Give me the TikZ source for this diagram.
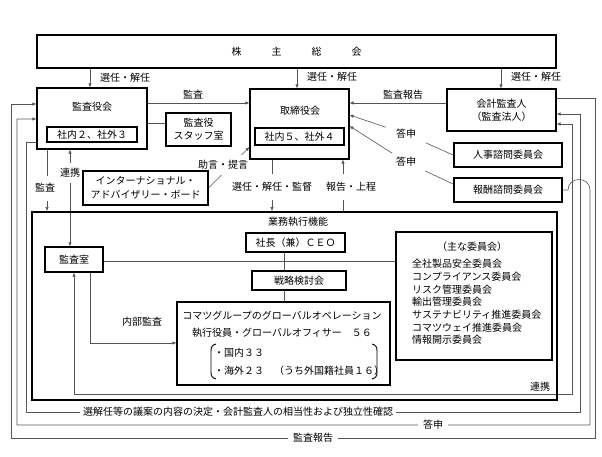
\documentclass[tikz,border=0pt]{standalone}
\usepackage{fontspec}
\setmainfont{Noto Sans CJK JP}
\usetikzlibrary{arrows.meta}
\pgfdeclarelayer{background}
\pgfsetlayers{background,main}
\definecolor{lc}{RGB}{85,85,85}
\begin{document}
\begin{tikzpicture}[x=1pt,y=-1pt,
  every node/.style={font=\fontsize{10}{13}\selectfont, inner sep=0pt, text=black},
  bx/.style={draw=black, line width=1.1pt},
  tbx/.style={draw=black, line width=1.8pt},
  conn/.style={draw=lc, line width=0.6pt},
  arr/.style={-{Latex[length=4pt,width=3.4pt]}},
  arrb/.style={{Latex[length=4pt,width=3.4pt]}-{Latex[length=4pt,width=3.4pt]}},
  lbl/.style={fill=white, inner xsep=2pt, inner ysep=3pt},
  vlbl/.style={fill=white, inner xsep=1pt, inner ysep=8pt}]
\begin{pgfonlayer}{background}
\fill[white] (0,0) rectangle (602,456);
\end{pgfonlayer}
\useasboundingbox (0,0) rectangle (602,456);

% boxes
\node[bx, minimum width=519pt, minimum height=33pt] (kabunushi) at (296.5,51.5) {株\hspace{30pt}主\hspace{30pt}総\hspace{30pt}会};
\node[bx, minimum width=110pt, minimum height=61pt] (kansayakukai) at (92,118.5) {};
\node (kansatitle) at (92,107) {監査役会};
\node[bx, minimum width=90pt, minimum height=15pt] (kansainner) at (92,134.5) {社内２、社外３};
\node[bx, minimum width=65pt, minimum height=33pt, align=center] (staff) at (198.5,129.5) {監査役\\スタッフ室};
\node[bx, minimum width=99pt, minimum height=70pt] (torishimari) at (299.5,124) {};
\node (tortitle) at (300,111) {取締役会};
\node[bx, minimum width=89pt, minimum height=17pt] (torinner) at (299.5,136.5) {社内５、社外４};
\node[bx, minimum width=109pt, minimum height=42pt, align=center] (kaikei) at (501.5,110) {会計監査人\\（監査法人）};
\node[tbx, minimum width=108pt, minimum height=24pt] (jinji) at (508,155) {人事諮問委員会};
\node[tbx, minimum width=108pt, minimum height=24pt] (hoshu) at (508,190) {報酬諮問委員会};
\node[bx, minimum width=125pt, minimum height=34pt, align=center, font=\fontsize{10}{14}\selectfont] (iab) at (145.5,188) {インターナショナル・\\アドバイザリー・ボード};
\node[tbx, minimum width=525pt, minimum height=188pt] (gyomu) at (294.5,306) {};
\node (gyomutitle) at (298,222) {業務執行機能};
\node[bx, minimum width=99pt, minimum height=19pt] (ceo) at (295.5,242.5) {社長（兼）ＣＥＯ};
\node[bx, minimum width=94pt, minimum height=19pt] (senryaku) at (299,280.5) {戦略検討会};
\node[bx, minimum width=213pt, minimum height=83pt] (komatsu) at (283.5,343.5) {};
\node (kline1) at (282,316) {コマツグループのグローバルオペレーション};
\node (kline2) at (282,333) {執行役員・グローバルオフィサー　５６};
\node[anchor=west] (kline3) at (214,353) {・国内３３};
\node[anchor=west] (kline4) at (214,371) {・海外２３　（うち外国籍社員１６）};
\draw[line width=0.9pt] (216,344) .. controls (212,345) and (211,347) .. (211,351) -- (211,372) .. controls (211,376) and (212,378) .. (216,379);
\draw[line width=0.9pt] (372,344) .. controls (376,345) and (377,347) .. (377,351) -- (377,372) .. controls (377,376) and (376,378) .. (372,379);
\node[bx, minimum width=156pt, minimum height=128pt] (iinkai) at (474,296) {};
\node (iinkaititle) at (472,247) {（主な委員会）};
\node[anchor=north west, align=left, font=\fontsize{10}{12.7}\selectfont] (iinkailist) at (412,259) {全社製品安全委員会\\コンプライアンス委員会\\リスク管理委員会\\輸出管理委員会\\サステナビリティ推進委員会\\コマツウェイ推進委員会\\情報開示委員会};
\node[bx, minimum width=58pt, minimum height=25pt] (kansashitsu) at (74,259.5) {監査室};

% labels used as breaks in diagonal connectors
\node[inner xsep=10pt, inner ysep=4pt] (toshin1) at (406,134) {答申};
\node[inner xsep=10pt, inner ysep=4pt] (toshin2) at (406,162) {答申};

% plain labels
\node (l1) at (125,78) {選任・解任};
\node (l2) at (332,77) {選任・解任};
\node (l3) at (536,77) {選任・解任};
\node (l4) at (193,95) {監査};
\node (l5) at (403,95) {監査報告};
\node (l6) at (142,322) {内部監査};
\node (l7) at (540,387) {連携};

\begin{pgfonlayer}{background}
% from shareholders
\draw[conn,arr] (kabunushi.south -| 90,0) -- (kansayakukai.north -| 90,0);
\draw[conn,arr] (kabunushi.south -| 297,0) -- (torishimari.north -| 297,0);
\draw[conn,arr] (kabunushi.south -| 501,0) -- (kaikei.north -| 501,0);
% audit board
\draw[conn,arr] (kansayakukai.east |- 0,103) -- (torishimari.west |- 0,103);
\draw[conn] (kansayakukai.east |- 0,123) -- (staff.west |- 0,123);
\draw[conn,arr] (kaikei.west |- 0,103) -- (torishimari.east |- 0,103);
% advisory committees
\draw[conn] (jinji.west) -- (toshin1);
\draw[conn,arr] (toshin1) -- (torishimari.east |- 0,115);
\draw[conn] (hoshu.west |- 0,184) -- (toshin2);
\draw[conn,arr] (toshin2) -- (torishimari.east |- 0,126);
% IAB
\draw[conn,arr] (iab.east) -- (torishimari.west |- 0,147);
% board <-> execution
\draw[conn,arr] (torishimari.south -| 272,0) -- (gyomu.north -| 272,0);
\draw[conn,arr] (gyomu.north -| 343,0) -- (torishimari.south -| 343,0);
% audit board -> execution, audit office
\draw[conn,arr] (kansayakukai.south -| 47,0) -- (gyomu.north -| 47,0);
\draw[conn,arrb] (kansayakukai.south -| 70,0) -- (kansashitsu.north -| 70,0);
\draw[conn,arr] (kansashitsu.south -| 90,0) |- (komatsu.west |- 0,343);
\draw[conn] (kansashitsu.east |- 0,261) -- (iinkai.west |- 0,261);
\draw[conn] (ceo.south -| 284,0) -- (senryaku.north -| 284,0);
\draw[conn] (senryaku.south -| 284,0) -- (komatsu.north -| 284,0);
% loops
\draw[conn,arr] (kaikei.east |- 0,98) -| (595,438) -| (11,104) -- (kansayakukai.west |- 0,104);
\draw[conn,arr] (hoshu.east) -- (568,190) .. controls (568,176) and (590,176) .. (590,190) |- (17,425) -- (17,119) -- (kansayakukai.west |- 0,119);
\draw[conn,arr] (kansayakukai.west |- 0,142) -| (26,412) -| (580,114) -- (kaikei.east |- 0,114);
\draw[conn,arrb] (kansashitsu.south -| 74,0) -- (74,394) -| (572,124) -- (kaikei.east |- 0,124);
% labels on lines
\node[lbl, inner ysep=5pt] (l8) at (223,165) {助言・提言};
\node[vlbl] (l9) at (272,187) {選任・解任・監督};
\node[vlbl] (l10) at (351,187) {報告・上程};
\node[vlbl] (l11) at (45,188) {監査};
\node[lbl, inner ysep=5pt] (l12) at (70,173) {連携};
\node[lbl, inner xsep=3pt] (l13) at (238,412) {選解任等の議案の内容の決定・会計監査人の相当性および独立性確認};
\node[lbl, inner xsep=5pt] (l14) at (433,425) {答申};
\node[lbl, inner xsep=5pt] (l15) at (313,438) {監査報告};
\end{pgfonlayer}
\end{tikzpicture}
\end{document}
